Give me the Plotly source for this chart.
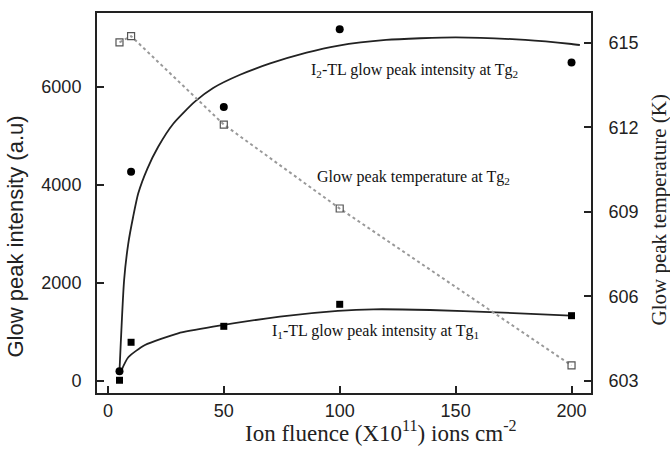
import plotly.graph_objects as go

# data points
fluence = [5, 10, 50, 100, 200]
i2_intensity = [200, 4270, 5590, 7180, 6500]
i1_intensity = [15, 790, 1116, 1565, 1333]
tg2_temperature = [615.02, 615.24, 612.1, 609.12, 603.55]

# fitted curves
i2_fit_x = [5, 7.0, 8.8, 10.9, 13.1, 17, 21.7, 28.2, 37.5, 45.4, 57, 70, 85.7, 99, 120, 150, 180, 200, 203.6]
i2_fit_y = [200, 2061, 2810, 3353, 3830, 4330, 4780, 5250, 5700, 5980, 6250, 6480, 6700, 6840, 6960, 7014, 6960, 6877, 6857]
i1_fit_x = [5.9, 8.8, 16, 30.3, 45.4, 74.2, 99.2, 114.5, 139, 167.7, 199.6]
i1_fit_y = [224, 484, 735, 973, 1108, 1312, 1429, 1463, 1449, 1402, 1333]

x_ticks = [0, 50, 100, 150, 200]
y_ticks = [0, 2000, 4000, 6000]
y2_ticks = [603, 606, 609, 612, 615]

serif = "Liberation Serif, Times New Roman, serif"
sans = "Liberation Sans, Arial, sans-serif"

fig = go.Figure()
fig.add_trace(go.Scatter(x=i2_fit_x, y=i2_fit_y, mode="lines",
                         line=dict(color="#222", width=1.8, shape="spline", smoothing=0.6),
                         showlegend=False))
fig.add_trace(go.Scatter(x=i1_fit_x, y=i1_fit_y, mode="lines",
                         line=dict(color="#222", width=1.8, shape="spline", smoothing=0.6),
                         showlegend=False))
fig.add_trace(go.Scatter(x=fluence, y=i2_intensity, mode="markers",
                         marker=dict(symbol="circle", size=8, color="#000"),
                         showlegend=False))
fig.add_trace(go.Scatter(x=fluence, y=i1_intensity, mode="markers",
                         marker=dict(symbol="square", size=7, color="#000"),
                         showlegend=False))
fig.add_trace(go.Scatter(x=fluence, y=tg2_temperature, mode="lines+markers", yaxis="y2",
                         line=dict(color="#999", width=2, dash="dot"),
                         marker=dict(symbol="square-open", size=7, color="#555",
                                     line=dict(width=1.2, color="#555")),
                         showlegend=False))

ann_font = dict(family=serif, size=16, color="#111")
fig.add_annotation(x=132.4, y=6327, xref="x", yref="y", showarrow=False,
                   text="I<sub>2</sub>-TL glow peak intensity at Tg<sub>2</sub>", font=ann_font)
fig.add_annotation(x=132, y=4163, xref="x", yref="y", showarrow=False,
                   text="Glow peak temperature at Tg<sub>2</sub>", font=ann_font)
fig.add_annotation(x=115.6, y=1000, xref="x", yref="y", showarrow=False,
                   text="I<sub>1</sub>-TL glow peak intensity at Tg<sub>1</sub>", font=ann_font)

# axis titles
fig.add_annotation(x=-0.165, y=0.413, xref="paper", yref="paper", showarrow=False,
                   xanchor="center", yanchor="middle",
                   text="Glow peak intensity (a.u)", textangle=-90,
                   font=dict(family=sans, size=22, color="#222"))
fig.add_annotation(x=1.137, y=0.482, xref="paper", yref="paper", showarrow=False,
                   xanchor="center", yanchor="middle",
                   text="Glow peak temperature (K)", textangle=-90,
                   font=dict(family=serif, size=21, color="#222"))
fig.add_annotation(x=0.575, y=-0.1, xref="paper", yref="paper", showarrow=False,
                   xanchor="center", yanchor="middle",
                   text="Ion fluence (X10<sup>11</sup>) ions cm<sup>-2</sup>",
                   font=dict(family=serif, size=23, color="#222"))

axis_common = dict(showgrid=False, zeroline=False, showline=True, linecolor="#222",
                   linewidth=2, ticks="inside", ticklen=7, tickwidth=1.5, tickcolor="#222",
                   tickfont=dict(family=sans, size=18, color="#222"))

fig.update_layout(
    width=670, height=461,
    margin=dict(l=97, r=79, t=13, b=68),
    paper_bgcolor="white", plot_bgcolor="white",
    xaxis=dict(range=[-4.7, 208.4], tickvals=x_ticks, mirror=True,
               ticklabelstandoff=0, **axis_common),
    yaxis=dict(range=[-245, 7510], tickvals=y_ticks, ticklabelstandoff=10, **axis_common),
    yaxis2=dict(range=[602.57, 616.06], tickvals=y2_ticks, overlaying="y", side="right",
                ticklabelstandoff=12, **axis_common),
)

fig.write_html("out.html")
